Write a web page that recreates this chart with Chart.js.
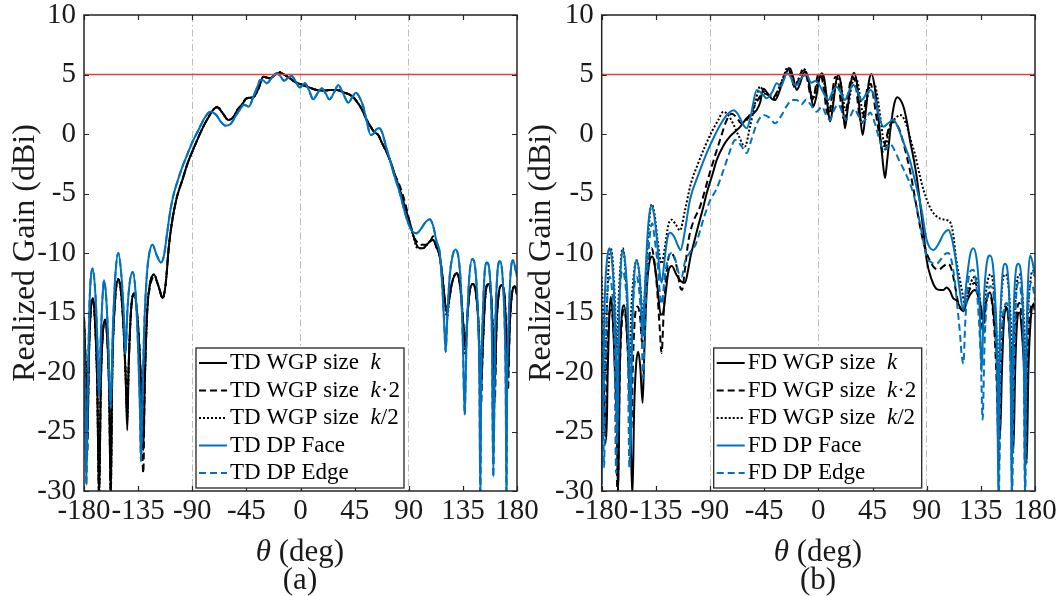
<!DOCTYPE html>
<html><head><meta charset="utf-8">
<script src="https://cdn.jsdelivr.net/npm/chart.js@4.4.1/dist/chart.umd.min.js"></script>
<style>
html,body{margin:0;padding:0;background:#fff;}
body{width:1060px;height:596px;overflow:hidden;position:relative;font-family:'Liberation Serif','Times New Roman',serif;color:#1a1a1a;}
.cw{position:absolute;top:0;width:560px;height:596px;}
.lab{position:absolute;width:200px;text-align:center;font-size:31px;line-height:32px;white-space:nowrap;}
</style></head><body>
<div class="cw" style="left:0px"><canvas id="ca"></canvas></div>
<div class="cw" style="left:500px"><canvas id="cb"></canvas></div>
<div class="lab" style="left:200px;top:535px"><i>θ</i> (deg)</div>
<div class="lab" style="left:200px;top:563px">(a)</div>
<div class="lab" style="left:718px;top:535px"><i>θ</i> (deg)</div>
<div class="lab" style="left:718px;top:563px">(b)</div>
<script>
// ---------- axis ticks ----------
const thetaTicks = [-180,-135,-90,-45,0,45,90,135,180];
const gainTicks = [10,5,0,-5,-10,-15,-20,-25,-30];
const gridAt = [-90,0,90];
const refTheta = [-180,180];
const refGain = [5,5];

// ---------- (a) TD ----------
const tdLabels = ['TD WGP size  k','TD WGP size  k\u00b72','TD WGP size  k/2','TD DP Face','TD DP Edge'];
const tdBlackTheta = [-180,-178.5,-177.3,-176,-174.5,-172.8,-171,-169,-167.5,-166,
 -164.5,-162.5,-160.5,-159,-157.8,-156.5,-154.5,-151.5,-149,-147,
 -145.5,-144,-143,-141,-138.4,-135.5,-133,-130.7,-129.5,-127.5,
 -125,-121.8,-118,-114.6,-112,-109.5,-107,-103,-98,-94,
 -89.2,-85,-80.9,-76,-72,-69.2,-65,-60,-56,-52,
 -48.9,-44.8,-39.2,-35,-30.9,-25.4,-21,-17,-13,-8.7,
 -5,-1.8,5.1,13.4,20,24.5,30.1,35.6,40,43.9,
 47,50.9,54,57.8,61,64.7,68,71,74.4,78,
 82.7,87,91,94,96.4,99,101.9,105,108,110.2,
 113,115.8,118,120,121.9,123.5,126,129.8,133,135,
 137,139,141,143.6,146,148,150,151.5,153.5,156,
 158.5,160,161.5,163,165,167,169.5,171,172.5,174,
 176,178.2,180];
const tdK = [-15.4,-20,-26,-19,-15,-13.8,-15.5,-21,-30.5,-21,
 -17,-15.6,-17.5,-22,-30.5,-20,-14.5,-12.2,-13.5,-16.5,
 -20,-24.9,-20,-15,-13.4,-15.5,-20,-26.6,-21,-15,
 -12.5,-11.8,-12.8,-13.8,-12.5,-9.5,-7.5,-5.4,-3.8,-2.5,
 -1.3,-0.3,0.6,1.5,2.1,2.24,1.8,1.18,1.4,2.1,
 2.44,3.0,3.1,3.8,4.82,4.68,5.0,5.15,4.95,4.68,
 4.4,4.26,4.0,3.7,3.65,3.7,3.7,3.5,3.35,3.08,
 2.7,2.1,1.4,0.7,0.2,-0.1,-0.8,-1.4,-2.2,-3.3,
 -4.7,-6.2,-7.5,-8.6,-9.3,-9.6,-9.6,-9.3,-9.0,-8.9,
 -9.5,-10.3,-12,-14,-15.1,-14,-12.5,-11.7,-13,-15.5,
 -18,-15,-13,-12.6,-13.5,-16,-21.5,-18,-13.8,-12.6,
 -13.6,-17,-21,-16,-13.3,-12.7,-13.5,-16.5,-20.5,-16,
 -13.3,-12.8,-13.5];
const tdK2 = [-15.4,-20,-27,-19,-15,-13.8,-15.5,-21,-30.5,-21,
 -17,-15.6,-17.5,-22,-30.5,-20,-14.5,-12.2,-13.5,-16.5,
 -20,-23.5,-20,-15,-13.4,-15.5,-20,-28.5,-21,-15,
 -12.8,-12,-12.8,-13.8,-12.5,-9.5,-7.5,-5.4,-3.8,-2.5,
 -1.3,-0.3,0.6,1.5,2.1,2.24,1.8,1.18,1.4,2.1,
 2.44,3.0,3.1,3.8,4.82,4.68,5.0,5.15,4.95,4.68,
 4.4,4.26,4.0,3.7,3.65,3.7,3.7,3.5,3.35,3.08,
 2.7,2.1,1.4,0.7,0.2,-0.1,-0.8,-1.4,-2.2,-3.3,
 -4.4,-5.8,-7.5,-8.6,-9.0,-9.3,-9.3,-9.3,-9.0,-8.6,
 -9.5,-10.3,-12,-14,-14.5,-14,-12.5,-11.7,-13,-15.5,
 -17.5,-15,-13,-12.6,-13.5,-16,-23,-18,-13.8,-12.6,
 -13.6,-17,-22.5,-16,-13.3,-12.7,-13.5,-16.5,-21.5,-16,
 -13.3,-12.8,-13.5];
const tdKhalf = [-15.4,-20,-25,-19,-15,-13.8,-15.5,-21,-30.5,-21,
 -17,-15.6,-17.5,-22,-30.5,-20,-14.5,-12.2,-13.5,-16.5,
 -20,-24,-20,-15,-13.4,-15.5,-20,-25.5,-21,-15,
 -12.5,-11.8,-12.8,-13.8,-12.5,-9.5,-7.5,-5.4,-3.8,-2.5,
 -1.3,-0.3,0.6,1.5,2.1,2.3,1.8,1.18,1.4,2.1,
 2.44,3.0,3.1,3.8,4.82,4.68,5.0,5.2,4.95,4.68,
 4.4,4.26,4.0,3.7,3.65,3.7,3.7,3.5,3.35,3.08,
 2.7,2.1,1.4,0.7,0.2,-0.1,-0.8,-1.4,-2.2,-3.3,
 -4.7,-6.2,-7.5,-8.6,-9.5,-9.6,-9.6,-9.3,-9.0,-8.9,
 -9.5,-10.3,-12,-14,-15.5,-14,-12.5,-11.7,-13,-15.5,
 -18.5,-15,-13,-12.6,-13.5,-16,-21,-18,-13.8,-12.6,
 -13.6,-17,-20.5,-16,-13.3,-12.7,-13.5,-16.5,-19.5,-16,
 -13.3,-12.8,-13.5];
const tdFaceTheta = [-180,-179,-178,-177,-175.5,-172.8,-170.5,-169,-167.5,-166,
 -165,-163.4,-161.5,-160,-157.8,-156,-154,-151.5,-149,-147,
 -145.5,-144,-142,-139.5,-137,-135,-133.5,-132.6,-131.6,-130,
 -128,-126,-123,-119.5,-116,-113.5,-111,-108,-105,-102,
 -98,-94,-90,-85,-80,-75,-70,-66,-62,-58,
 -54,-50,-47,-43,-39,-35,-33.7,-31,-28,-24,
 -20,-17,-13.7,-10.5,-7.3,-4,-0.4,3.7,7,10.6,
 14,17.6,21,24,28,31.4,35,39.8,43,46.1,
 49,52.2,55,58.3,61,63,65.5,68,71,74.4,
 78,82.7,86,89.6,93,96.4,100,104,107.5,110.5,
 113,115.8,118,119.5,120.7,122,124,126.5,129,131.5,
 133.5,135,136.5,138,140,142.9,145.5,147.5,148.7,149.5,
 150.3,151.5,153,155,157.5,159,160.3,161.8,163.5,165.6,
 168,170,170.6,171.2,171.8,172.7,174.5,176.7,179,180];
const tdFace = [-16.7,-24,-29.5,-22,-14.5,-11.3,-13.5,-17,-22,-17,
 -14.5,-12.3,-13.8,-17,-23,-16.5,-12,-10.0,-11.8,-15,
 -18.5,-15,-12.5,-11.6,-13.5,-18,-23,-27.5,-23,-16.5,
 -12.2,-10.2,-9.3,-10.2,-10.8,-10.2,-8.4,-6.3,-4.9,-3.9,
 -2.7,-1.7,-0.7,0.3,1.3,1.87,1.6,1.0,0.7,0.85,
 1.5,2.1,2.45,2.3,3.2,4.2,4.54,4.5,4.26,4.7,
 5.1,4.9,4.48,4.7,4.87,4.4,3.92,4.26,3.7,2.91,
 3.4,3.84,3.4,2.91,3.5,4.12,3.5,2.63,3.1,3.47,
 3.1,2.3,1.1,-0.08,0.05,0.4,0.48,0.1,-1.0,-2.19,
 -3.5,-5.0,-6.3,-7.5,-8.2,-8.35,-8.0,-7.4,-7.17,-7.8,
 -9,-10,-13,-16,-18.3,-15.5,-12,-10.2,-9.7,-10.5,
 -13,-17.5,-23.6,-17.5,-12.5,-10.5,-11.5,-15,-20,-30.5,
 -20,-15.5,-11.8,-10.8,-12,-16,-28.8,-17,-12,-10.7,
 -12,-17,-21,-30.5,-21,-17,-12,-10.6,-11.5,-12];
const tdEdgeTheta = tdFaceTheta;
const tdEdge = tdFace;

// ---------- (b) FD ----------
const fdLabels = ['FD WGP size  k','FD WGP size  k\u00b72','FD WGP size  k/2','FD DP Face','FD DP Edge'];
const fdKTheta = [-180,-178,-176.1,-175,-173.8,-172.5,-171,-169,-167.5,-166.4,
 -165,-163.5,-161.4,-159.5,-157.5,-156,-154.5,-153,-151.5,-149.6,
 -148,-146,-144.5,-142.5,-140,-138,-136,-133.5,-131,-129,
 -127,-124.5,-121.8,-118,-114,-110.8,-108,-106,-103.8,-100,
 -96,-92.8,-88,-84.5,-79,-73.4,-65,-59.6,-51.3,-48.5,
 -45.7,-42,-38,-36,-33,-30,-26,-23.6,-21,-18,
 -15,-12.5,-10.3,-8,-6,-4.2,-2,0.5,2.8,5,
 7.5,9.7,12,14.5,16.6,19,21,22.1,24,27,
 29.6,32,34.5,36.8,39,42,44.3,47,50,53,
 55.4,57,60,63,65.6,68,71,74,76.1,79,
 81.7,84.5,87.2,90,94,98,101.1,104,106.5,109.4,
 112,114.9,117.5,120.5,123,126,130.2,133,135,137.1,
 139,142.6,145,147.5,149.5,151,152.5,154,156,158,
 160,162,163.5,165,167,169,171,173.1,174.5,176.5,
 178.5,180];
const fdK = [-17,-22,-25.7,-20,-15.5,-13.7,-15,-20,-24,-30.5,
 -20,-15.5,-14.4,-16,-20,-25,-30.5,-23,-19.5,-18.3,
 -19.5,-22.6,-18,-13,-10.6,-10.3,-11,-13,-15.2,-15,
 -13.5,-11.5,-11.1,-11.8,-12.4,-12.5,-11.3,-10.2,-9.3,-7.8,
 -6.3,-5,-3.4,-2.2,-1.0,-0.2,0.6,1.32,2.0,2.6,
 3.8,3.4,2.9,2.86,3.4,4.3,5.3,5.52,4.8,3.7,
 4.3,5.1,5.24,4.5,3.2,2.3,3.0,4.5,5.1,4.6,
 2.5,1.04,2.2,4.3,4.96,4.0,1.5,0.48,1.8,4.3,
 5.15,4.3,1.8,-0.08,1.5,4.4,5.04,3.8,1.2,-1.8,
 -3.7,-2.4,0.5,2.5,3.08,2.9,2.2,0.8,-0.5,-2.0,
 -3.6,-5.8,-8.07,-10.6,-12.2,-13.0,-13.1,-13.1,-12.9,-13.2,
 -13.8,-14.0,-14.5,-14.9,-14.2,-13.5,-13.1,-13.7,-14.5,-15.6,
 -14.3,-13.3,-14.5,-17.5,-21,-25.4,-20,-16,-14.6,-15.5,
 -19,-26.8,-20,-16,-15,-16.5,-20,-27.7,-20,-15.5,
 -14.3,-14.5];
const fdK2Theta = [-180,-178.5,-177,-175.5,-173.5,-172.5,-170.5,-168.5,-166.8,-165,
 -163,-161.5,-159.5,-157.5,-155.5,-154,-152,-150,-148,-146.5,
 -144.5,-142,-140,-138.5,-136.5,-134,-132,-130.2,-128.5,-126,
 -123,-120,-117,-115,-113.2,-111,-108,-104,-98.3,-90,
 -81.7,-76,-72,-68,-64,-60,-55,-50,-46,-42,
 -38,-34,-30,-27,-24.5,-22,-19.5,-17,-14,-11.5,
 -9,-6.5,-5,-3,-0.5,2,4.5,7,9,11.5,
 14,16,18.5,21,23,26,28.5,31,33.5,36,
 38.5,41,43.5,46,49,51.5,53.5,56,59,62,
 65,68,72,76,80,84,88,92,96,100,
 104,108,111,114,117,120.5,123,126,130.2,133,
 135,137.1,139,142,144,146.5,148.5,150,151.5,153,
 155.5,158,160,161.5,163,165,167,169,171,172.5,
 174,176,178.5,180];
const fdK2 = [-15.5,-20,-26,-19,-15,-14.8,-16,-21,-30.5,-20,
 -15.5,-14.8,-16,-20,-25,-19,-15,-14.5,-15.5,-17.5,
 -15,-11.5,-10,-9.6,-10.5,-13,-16,-18.4,-15,-11.5,
 -10,-10.3,-11.5,-12.8,-13.1,-11.5,-9,-7.4,-6.1,-3.2,
 -0.5,1.2,1.7,1.4,0.9,1.1,2.0,2.9,3.4,3.3,
 3.0,3.6,4.5,5.2,5.4,4.6,3.9,4.4,5.2,5.35,
 4.5,3.2,2.9,3.5,4.9,5.0,3.8,1.9,1.6,3.4,
 4.8,4.7,2.8,1.3,1.8,4.1,4.8,4.2,2.0,0.9,
 2.3,4.0,4.2,3.0,0.9,-0.5,-1.5,-0.5,0.6,1.0,
 0.8,0.2,-1.3,-3.0,-5.2,-7.5,-9.4,-10.5,-11.2,-11.4,
 -11.1,-10.9,-11.5,-13,-14.5,-14.8,-14,-13,-12.5,-13.5,
 -15,-16.8,-14.5,-13.5,-14,-17,-22,-28,-20,-16,
 -14.5,-15.5,-19,-26,-19,-15,-14.2,-15.5,-19,-25,
 -18,-15,-14.2,-15];
const fdKhalfTheta = [-180,-178.5,-177,-175.5,-173.5,-172.5,-171,-169,-167.5,-166,
 -164,-162.5,-161,-159,-157,-155.5,-153,-150.9,-149,-147,
 -145.5,-144,-141,-138.5,-136,-133.5,-130.2,-127.5,-124.5,-121.8,
 -118.5,-114.9,-111,-106,-100,-94,-88,-83,-78.9,-75,
 -71,-66,-61,-57,-52,-48.5,-45,-41,-37,-33,
 -29,-25.5,-22.5,-20,-17,-14,-11.5,-9,-7,-4.5,
 -2,0.5,3,5.5,8,10.5,13,15.5,17.5,20,
 22.5,25,28,30.5,33,35.5,37.5,40,43,46,
 49,52,54,56,58,61,64,67.8,71,74,
 77,80,83,86,90,94,98,101,105,109.4,
 112,114.5,117.7,120,121.9,124,127,130.2,133,135,
 137,139,141.5,143.5,145.5,147.5,149.5,151,153,155.5,
 158,160,161.5,163,165,167,169,171,172.5,174,
 176,178,180];
const fdKhalf = [-12,-16,-20,-14,-10,-9.6,-10.5,-14,-18,-14,
 -10.5,-9.6,-10.5,-14,-20,-15,-11.5,-10.6,-11.5,-14,
 -15.5,-13,-8,-5.9,-6.8,-9,-10.9,-9.5,-7.6,-7.2,
 -7.6,-8.1,-6.5,-4.2,-2.5,-1.0,0.3,1.2,1.88,1.6,
 0.9,-0.2,-1.06,0.5,2.8,3.98,3.5,3.3,3.0,3.8,
 4.8,5.6,4.8,4.0,4.5,5.3,5.45,4.6,3.8,3.0,
 3.8,4.7,4.9,4.0,2.5,1.8,3.3,4.6,4.7,3.4,
 2.0,2.5,4.2,4.8,4.2,2.5,1.5,2.6,4.1,4.3,
 3.2,1.0,-0.5,-1.3,0.1,1.0,1.3,1.6,1.3,0.5,
 -0.6,-1.6,-2.9,-4.2,-5.5,-6.4,-6.9,-7.1,-7.2,-7.4,
 -8.4,-10.5,-12.3,-13.5,-14.5,-13.5,-12.4,-12,-12.8,-14.5,
 -16,-13.5,-12,-11.8,-12.8,-15.5,-20,-16,-12.5,-11.8,
 -12.8,-16,-20,-15.5,-12.5,-11.8,-12.8,-16,-20,-15.5,
 -12.5,-11.5,-12];
const fdFaceTheta = [-180,-179,-177.5,-175.5,-173.6,-171.5,-169.5,-168,-167,-166,
 -164.5,-162.5,-160.5,-158.5,-157,-156,-155,-153.5,-150.9,-148.5,
 -147,-145.8,-144.5,-142.5,-140.5,-138.5,-136.5,-134,-132,-130.2,
 -128,-125.5,-123.2,-120,-117,-114.4,-111,-106.6,-100,-92.8,
 -86,-78.9,-74,-70.6,-67,-63,-59.5,-56,-51.2,-47,
 -42.9,-38.5,-34.6,-31,-28.5,-26.3,-23,-20.5,-18,-15,
 -12,-9.7,-6,-2.5,1,4.5,8.3,12,15.2,18.5,
 22.1,25.5,29,32.5,36,40,43.5,47,50.5,54,
 58,62.3,66,70,76.1,80,85.8,90,95.6,100,
 104,108,111,114,117,120.5,123,126,128.7,131.5,
 133.5,135.7,137.5,140,142.6,145,147,148.7,149.5,150.3,
 152,155.1,158,159.8,160.6,161.4,163,166.1,169,170.9,
 171.7,172.5,174,175.9,178,180];
const fdFace = [-29.5,-22,-14,-10.5,-9.6,-10.6,-14,-19,-26,-18,
 -12,-9.75,-10.8,-14,-20,-27,-19,-13,-10.6,-12,
 -14.5,-17,-14,-9.5,-6.8,-6.0,-6.8,-9,-11.5,-12.5,
 -10.8,-8.8,-8.3,-8.6,-9.3,-9.75,-8.2,-5.5,-3.5,-1.6,
 -0.1,1.2,1.8,2.0,1.7,0.9,0.48,1.6,3.7,3.4,
 3.0,3.5,4.26,4.0,4.6,5.1,4.8,4.2,4.12,4.6,
 4.9,4.96,4.3,4.45,4.1,3.4,2.86,3.6,3.98,3.5,
 2.86,3.6,4.12,3.6,2.86,3.4,3.7,3.0,1.5,0.6,
 0.9,1.2,0.6,-0.5,-2.2,-3.8,-6.4,-8.9,-9.75,-9.2,
 -8.4,-8.07,-8.8,-10.5,-12.8,-14.8,-12.5,-10.2,-9.6,-10.5,
 -13,-20,-14,-10.8,-10.2,-11,-14,-20,-30.5,-20,
 -13.5,-10.9,-12.5,-20,-30.5,-20,-13,-10.9,-12.5,-20,
 -30.5,-20,-13,-10.2,-10.8,-12];
const fdEdgeTheta = [-180,-179,-178,-177,-175.5,-173.5,-171.5,-169.5,-168,-166.5,
 -164.5,-162.5,-160.5,-158.5,-157,-155.5,-153.5,-151,-149,-147,
 -145.5,-144,-142,-140,-138,-136,-133.5,-131.5,-130,-128,
 -125,-122,-119,-116,-113.5,-111,-107,-102,-95,-90,
 -84.5,-78,-74,-69,-64,-59.6,-56,-51,-45.7,-41,
 -36,-31,-26,-22,-18,-14,-10,-6,-1.4,3,
 6,9.7,13,16.5,20,23,26.3,30,33,36,
 40.1,43,46,50,54,57,59.5,63,67,72,
 78.9,84.4,90,94,98.3,102,105,108,111,113.5,
 115.5,117.7,119,120.5,122,124,126.5,128.8,131,133,
 135,136.5,138,140,143,145.5,147.5,149,150,151,
 153,156.5,158.5,160,161,162.2,164,166.2,168.5,170.5,
 171.8,173,175,177.3,179,180];
const fdEdge = [-15,-22,-28,-20,-14,-12,-13,-17,-28.5,-18,
 -12.5,-11.5,-12.5,-16,-28,-18,-13.5,-12,-13,-16,
 -20.5,-16,-11.5,-8.5,-7.5,-8.8,-11,-13.5,-14.3,-12.3,
 -10.5,-10,-10.5,-11.7,-12,-10.8,-10,-9.3,-7.0,-5.6,
 -4.6,-2.8,-1.6,-0.5,-1.0,-1.6,-0.6,0.9,1.6,1.4,
 0.9,1.5,2.4,2.85,2.86,2.5,2.9,2.4,1.88,2.3,
 1.7,1.18,2.0,2.5,1.8,1.2,1.46,2.1,1.6,1.0,
 1.32,1.8,1.2,-0.2,-1.34,-1.1,-0.8,-1.3,-2.2,-3.2,
 -5.0,-7.5,-10.3,-10.8,-10.9,-10.5,-10.1,-10,-10.8,-12.5,
 -14.5,-16.8,-18.5,-19.3,-16,-12.8,-11.5,-11.4,-12.5,-15,
 -19,-24,-18,-14,-12.8,-13.5,-17,-24,-30.5,-22,
 -16,-14.2,-16,-22,-30.5,-22,-14.5,-12.5,-13.5,-18,
 -30.5,-19,-13.5,-12.5,-13.3,-14];

// ---------- drawing ----------
const FONT = "'Liberation Serif','Times New Roman',serif";
const BLUE = '#0072bd', BLACK = '#000000', RED = '#e8413c';
Chart.defaults.font.family = FONT;

function pts(t, g){ return t.map((v,i)=>({x:v, y:g[i]})); }
function series(label, t, g, color, dash, order, width){
  return {label, data:pts(t,g), borderColor:color, backgroundColor:color, borderDash:dash,
    borderWidth:width, pointRadius:0, cubicInterpolationMode:'monotone', fill:false, order};
}
function refLine(){
  return {label:'ref', noLegend:true, data:pts(refTheta, refGain), borderColor:RED,
    borderWidth:1.3, pointRadius:0, tension:0, fill:false, order:0};
}

function drawRich(ctx, text, x, y, size){
  ctx.textBaseline = 'middle'; ctx.textAlign = 'left'; ctx.fillStyle = '#000';
  const runs = [];
  for (const ch of text){
    const it = ch === 'k';
    if (runs.length && runs[runs.length-1].it === it) runs[runs.length-1].s += ch;
    else runs.push({s:ch, it});
  }
  let cx = x;
  runs.forEach(r=>{
    ctx.font = (r.it ? 'italic ' : '') + size + 'px ' + FONT;
    ctx.fillText(r.s, cx, y);
    cx += ctx.measureText(r.s).width;
  });
}

const framePlugin = {
  id:'frameLegend',
  afterDraw(chart, args, opts){
    const {ctx, chartArea:a, scales:{x, y}} = chart;
    ctx.save();
    ctx.setLineDash([]);
    ctx.strokeStyle = '#262626'; ctx.lineWidth = 1.2;
    ctx.beginPath();
    thetaTicks.forEach(v=>{
      const p = Math.round(x.getPixelForValue(v)) + 0.5;
      ctx.moveTo(p, a.bottom); ctx.lineTo(p, a.bottom - 5);
      ctx.moveTo(p, a.top); ctx.lineTo(p, a.top + 5);
    });
    gainTicks.forEach(v=>{
      const p = Math.round(y.getPixelForValue(v)) + 0.5;
      ctx.moveTo(a.left, p); ctx.lineTo(a.left + 5, p);
      ctx.moveTo(a.right, p); ctx.lineTo(a.right - 5, p);
    });
    ctx.stroke();
    ctx.lineWidth = 1.5;
    ctx.strokeRect(a.left, a.top, a.right - a.left, a.bottom - a.top);
    // legend
    const bx = a.left + opts.dx, by = a.top + opts.dy;
    ctx.fillStyle = '#fff'; ctx.fillRect(bx, by, opts.w, opts.h);
    ctx.lineWidth = 1.3; ctx.strokeStyle = '#262626';
    ctx.strokeRect(bx, by, opts.w, opts.h);
    chart.data.datasets.filter(d=>!d.noLegend).forEach((d,i)=>{
      const cy = by + opts.first + i*opts.step;
      ctx.strokeStyle = d.borderColor; ctx.lineWidth = d.borderWidth;
      ctx.setLineDash(d.borderDash || []);
      ctx.beginPath(); ctx.moveTo(bx + 3, cy); ctx.lineTo(bx + 31, cy); ctx.stroke();
      ctx.setLineDash([]);
      drawRich(ctx, d.label, bx + 34, cy, opts.font);
    });
    ctx.restore();
  }
};

function makeChart(id, datasets, yWidth, padRight, titlePad){
  return new Chart(document.getElementById(id), {
    type:'line',
    data:{datasets},
    options:{
      responsive:true, maintainAspectRatio:false, animation:false,
      layout:{padding:{left:0, top:15, right:padRight, bottom:0}},
      plugins:{legend:{display:false}, tooltip:{enabled:false},
        frameLegend:{dx:112, dy:333, w:208, h:140, first:15, step:27.5, font:23}},
      scales:{
        x:{type:'linear', min:-180, max:180,
          afterBuildTicks:s=>{ s.ticks = thetaTicks.map(v=>({value:v})); },
          afterFit:s=>{ s.height = 105; s.paddingLeft = 0; s.paddingRight = 0; },
          ticks:{font:{family:FONT, size:29}, color:'#1a1a1a', padding:3, maxRotation:0, autoSkip:false},
          grid:{color:c=>(c.tick && gridAt.includes(c.tick.value)) ? '#bdbdbd' : 'rgba(0,0,0,0)', lineWidth:1, drawTicks:false},
          border:{display:false, dash:[7,3,1.5,3]}},
        y:{type:'linear', min:-30, max:10,
          afterBuildTicks:s=>{ s.ticks = gainTicks.map(v=>({value:v})); },
          afterFit:s=>{ s.width = yWidth; s.paddingTop = 0; s.paddingBottom = 0; },
          ticks:{font:{family:FONT, size:29}, color:'#1a1a1a', padding:8},
          grid:{display:false, drawTicks:false},
          border:{display:false},
          title:{display:true, text:'Realized Gain (dBi)', font:{family:FONT, size:32}, color:'#1a1a1a', padding:{top:titlePad, bottom:0}}}
      }
    },
    plugins:[framePlugin]
  });
}

makeChart('ca', [
  series(tdLabels[0], tdBlackTheta, tdK, BLACK, [], 6, 2),
  series(tdLabels[1], tdBlackTheta, tdK2, BLACK, [7,4], 5, 2),
  series(tdLabels[2], tdBlackTheta, tdKhalf, BLACK, [2,2], 4, 2),
  series(tdLabels[3], tdFaceTheta, tdFace, BLUE, [], 3, 2),
  series(tdLabels[4], tdEdgeTheta, tdEdge, BLUE, [7,4], 2, 2),
  refLine()
], 84, 43, 6);

makeChart('cb', [
  series(fdLabels[0], fdKTheta, fdK, BLACK, [], 6, 2),
  series(fdLabels[1], fdK2Theta, fdK2, BLACK, [7,4], 5, 2),
  series(fdLabels[2], fdKhalfTheta, fdKhalf, BLACK, [2,2], 4, 2),
  series(fdLabels[3], fdFaceTheta, fdFace, BLUE, [], 3, 2),
  series(fdLabels[4], fdEdgeTheta, fdEdge, BLUE, [7,4], 2, 2),
  refLine()
], 101.7, 25, 22);
</script>
</body></html>
